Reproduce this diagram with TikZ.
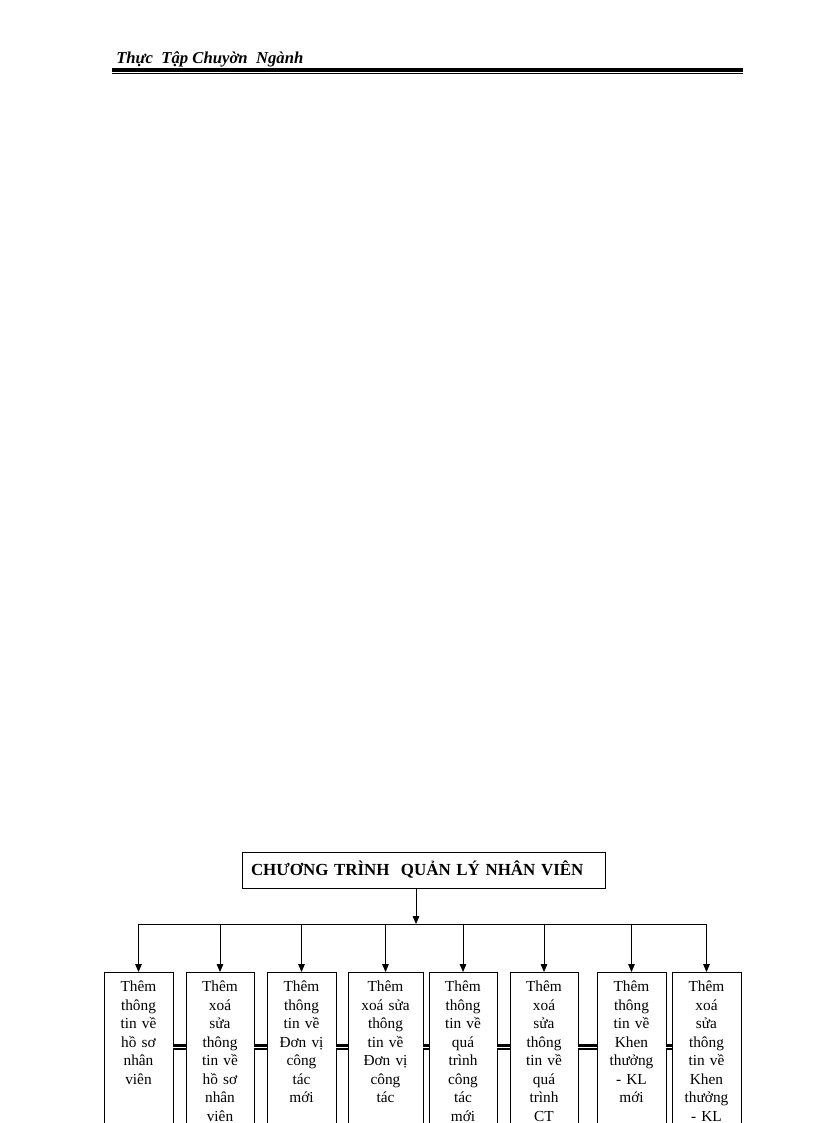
\documentclass[tikz,border=0pt]{standalone}
\usepackage{fontspec}
\setmainfont{Liberation Serif}
\usetikzlibrary{positioning, arrows.meta}

\begin{document}
\begin{tikzpicture}[x=0.75pt, y=-0.75pt,
	task/.style={rectangle, draw, line width=0.6pt, outer sep=0pt, anchor=north, align=center, text width=#1, inner xsep=2pt, inner ysep=5.8pt, text height=9pt, text depth=150pt, font=\fontsize{11.5}{13.9}\selectfont},
	title/.style={rectangle, draw, line width=0.6pt, outer sep=0pt, align=left, text width=258.75pt, inner xsep=6.75pt, minimum height=27pt, font=\fontsize{12.7}{15}\selectfont\bfseries},
	arr/.style={-{Triangle[length=6pt, width=5pt]}, line width=0.6pt},
	link/.style={double, double distance=0.6pt, line width=1.7pt},
	]
	\useasboundingbox (0,0) rectangle (816,1123);
	\clip (0,0) rectangle (816,1123);
	
	% header
	\node[anchor=base west, inner sep=0pt, font=\fontsize{12.5}{15}\selectfont\bfseries\itshape] (head) at (116,63.3) {Thực\ \ Tập Chuyờn\ \ Ngành};
	\draw[line width=2.6pt] (112,69.8) -- (743,69.8);
	\draw[line width=0.9pt] (112,73.5) -- (743,73.5);
	
	% chuong trinh
	\node[title] (prog) at (423.5,870) {CHƯƠNG TRÌNH\ \ QUẢN LÝ NHÂN VIÊN};
	\coordinate (hub) at (416,924);
	
	% chuc nang
	\node[task=47.75pt] (b1) at (138.5,972) {Thêm\\thông\\tin về\\hồ sơ\\nhân\\viên};
	\node[task=47pt, right=9.75pt of b1] (b2) {Thêm\\xoá\\sửa\\thông\\tin về\\hồ sơ\\nhân\\viên};
	\node[task=47.75pt, right=9.75pt of b2] (b3) {Thêm\\thông\\tin về\\Đơn vị\\công\\tác\\mới};
	\node[task=52.25pt, right=9pt of b3] (b4) {Thêm\\xoá sửa\\thông\\tin về\\Đơn vị\\công\\tác};
	\node[task=47pt, right=4.5pt of b4] (b5) {Thêm\\thông\\tin về\\quá\\trình\\công\\tác\\mới};
	\node[task=47pt, right=9.75pt of b5] (b6) {Thêm\\xoá\\sửa\\thông\\tin về\\quá\\trình\\CT};
	\node[task=47.75pt, right=14.25pt of b6] (b7) {Thêm\\thông\\tin về\\Khen\\thưởng\\- KL\\mới};
	\node[task=47.75pt, right=4.5pt of b7] (b8) {Thêm\\xoá\\sửa\\thông\\tin về\\Khen\\thưởng\\- KL};
	
	\draw[arr] (prog.south -| hub) -- (hub);
	\draw[line width=0.6pt] (b1.north |- hub) -- (b8.north |- hub);
	\foreach \b in {b1,b2,b3,b4,b5,b6,b7,b8}
		\draw[arr] (\b.north |- hub) -- (\b.north);
	\foreach \a/\b in {b1/b2, b2/b3, b3/b4, b4/b5, b5/b6, b6/b7, b7/b8}
		\draw[link] ([yshift=-56.25pt]\a.north east) -- ([yshift=-56.25pt]\b.north west);
\end{tikzpicture}
\end{document}
